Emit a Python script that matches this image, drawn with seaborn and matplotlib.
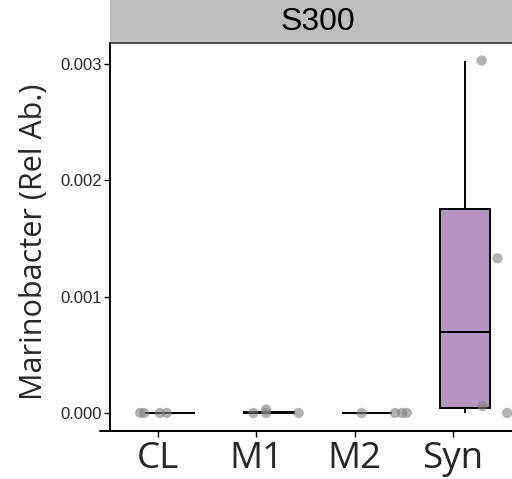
import numpy as np
import pandas as pd
import matplotlib
matplotlib.use("Agg")
import matplotlib.pyplot as plt
import seaborn as sns
from matplotlib.patches import Rectangle
from matplotlib.lines import Line2D

# ---- data ----
groups = ["CL", "M1", "M2", "Syn"]
cl_vals = [0.0, 0.0, 0.0, 0.0]
m1_vals = [0.0, 0.0, 0.00003, 0.0]
m2_vals = [0.0, 0.0, 0.0, 0.0]
syn_vals = [0.00303, 0.00133, 0.00006, 0.0]
# jitter offsets of the points
cl_jit = [-0.18, -0.14, 0.02, 0.09]
m1_jit = [-0.03, 0.10, 0.10, 0.43]
m2_jit = [0.07, 0.41, 0.48, 0.53]
syn_jit = [0.29, 0.45, 0.30, 0.55]
facet = "S300"
ylabel = "Marinobacter (Rel Ab.)"
yticks = [0.000, 0.001, 0.002, 0.003]

vals = [cl_vals, m1_vals, m2_vals, syn_vals]
jits = [cl_jit, m1_jit, m2_jit, syn_jit]
rows = []
for i, (g, v, j) in enumerate(zip(groups, vals, jits)):
    for vv, jj in zip(v, j):
        rows.append({"group": g, "idx": i, "value": vv, "jit": i + jj})
df = pd.DataFrame(rows)
box_offset = 0.125
df["boxpos"] = df["idx"] + box_offset

sns.set_theme(style="white")
plt.rcParams["font.family"] = ["Open Sans", "DejaVu Sans"]
narrow = ["Liberation Sans", "DejaVu Sans"]

W, H = 512, 479
fig = plt.figure(figsize=(W / 100, H / 100), dpi=100)
L, R, T, B = 110, 526, 43, 431
ax = fig.add_axes([L / W, 1 - B / H, (R - L) / W, (B - T) / H])

box_colors = ["white", "white", "white", "#B695C0"]
sns.boxplot(data=df, x="boxpos", y="value", hue="group", palette=box_colors,
            native_scale=True, width=0.51, dodge=False, legend=False, saturation=1,
            showfliers=False, showcaps=False, linecolor="black", linewidth=1.4, ax=ax)
sns.scatterplot(data=df, x="jit", y="value", color="#808080", alpha=0.6,
                s=55, edgecolor="none", ax=ax, zorder=5, legend=False)

ax.set_xlim(-0.487, 3.741)
ax.set_ylim(-0.000155, 0.003181)
ax.set_xticks(range(len(groups)))
ax.set_xticklabels(groups)
ax.set_yticks(yticks)
ax.set_yticklabels([f"{t:.3f}" for t in yticks], family=narrow, fontsize=12)
for lab in ax.get_xticklabels():
    lab.set_fontsize(26.5)
ax.set_xlabel("")
ax.set_ylabel(ylabel, fontsize=22, va="center")
ax.yaxis.set_label_coords(-0.182, 0.487)

ax.tick_params(axis="y", left=True, length=4.3, width=1.0, color="black", pad=1.5)
ax.tick_params(axis="x", bottom=True, length=4, width=1.0, color="black", pad=3.5)
for s in ["left", "bottom", "right", "top"]:
    ax.spines[s].set_visible(False)
ax.spines["left"].set_visible(True)
ax.spines["left"].set_color("black")
ax.spines["left"].set_linewidth(1.4)
ax.spines["top"].set_visible(True)
ax.spines["top"].set_color("#333333")
ax.spines["top"].set_linewidth(1.2)
ax.grid(False)

# bottom axis line extending slightly left
fig.add_artist(Line2D([100 / W, 1.0], [1 - B / H, 1 - B / H], color="black", lw=1.4))

# facet strip
strip_h = T / (B - T)
ax.add_patch(Rectangle((0, 1), 1, strip_h, transform=ax.transAxes,
                       facecolor="#BEBEBE", edgecolor="none", clip_on=False, zorder=0))
ax.text(0.5, 1 + strip_h / 2, facet, transform=ax.transAxes, ha="center", va="center",
        fontsize=23, family=narrow, color="black")

fig.savefig("out.png", dpi=100)
